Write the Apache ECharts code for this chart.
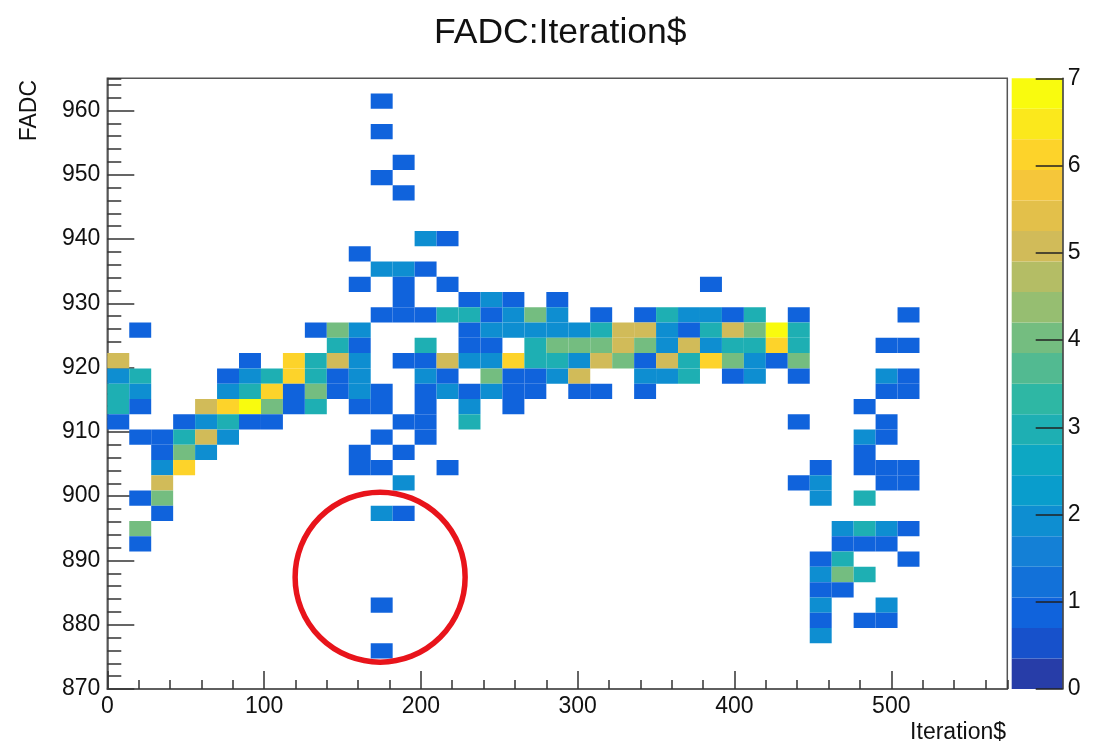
<!DOCTYPE html>
<html>
<head>
<meta charset="utf-8">
<script src="https://cdn.jsdelivr.net/npm/echarts@6/dist/echarts.min.js"></script>
<style>
  html, body { margin: 0; padding: 0; background: #fff; }
  #chart { width: 1106px; height: 746px; }
</style>
</head>
<body>
<div id="chart"></div>
<script>
// ---- histogram binning (TH2 of FADC vs Iteration$) ----
const xRange = [0, 574];       // Iteration$
const xBinWidth = 14;
const yRange = [870, 965];     // FADC
const yBinWidth = 2.375;
const zRange = [0, 7];         // bin content (colour axis)
const zContours = 20;

// ---- filled bins: [x bin index, y bin index, entries] ----
const cells = [
  // top outliers
  [12, 38, 1], [12, 36, 1], [13, 34, 1], [12, 33, 1], [13, 32, 1],
  [14, 29, 2], [15, 29, 1],
  [11, 28, 1],
  [12, 27, 2], [13, 27, 2], [14, 27, 1],
  [11, 26, 1], [13, 26, 1], [15, 26, 1], [27, 26, 1],
  [13, 25, 1], [16, 25, 1], [17, 25, 2], [18, 25, 1], [20, 25, 1],
  // main band
  [12, 24, 1], [13, 24, 1], [14, 24, 1], [15, 24, 3], [16, 24, 3], [17, 24, 1], [18, 24, 2],
  [19, 24, 4], [20, 24, 2], [22, 24, 1], [24, 24, 1], [25, 24, 3], [26, 24, 2], [27, 24, 2],
  [28, 24, 1], [29, 24, 3], [31, 24, 1], [36, 24, 1],
  [1, 23, 1], [9, 23, 1], [10, 23, 4], [11, 23, 2], [16, 23, 1], [17, 23, 2], [18, 23, 2],
  [19, 23, 2], [20, 23, 2], [21, 23, 2], [22, 23, 3], [23, 23, 5], [24, 23, 5], [25, 23, 2],
  [26, 23, 1], [27, 23, 3], [28, 23, 5], [29, 23, 4], [30, 23, 7], [31, 23, 3],
  [10, 22, 3], [11, 22, 1], [14, 22, 3], [16, 22, 1], [17, 22, 1], [19, 22, 3], [20, 22, 4],
  [21, 22, 4], [22, 22, 4], [23, 22, 5], [24, 22, 4], [25, 22, 2], [26, 22, 5], [27, 22, 2],
  [28, 22, 3], [29, 22, 3], [30, 22, 6], [31, 22, 3], [35, 22, 1], [36, 22, 1],
  [0, 21, 5], [6, 21, 1], [8, 21, 6], [9, 21, 3], [10, 21, 5], [11, 21, 2], [13, 21, 1],
  [14, 21, 1], [15, 21, 5], [16, 21, 2], [17, 21, 2], [18, 21, 6], [19, 21, 3], [20, 21, 3],
  [21, 21, 2], [22, 21, 5], [23, 21, 4], [24, 21, 1], [25, 21, 5], [26, 21, 3], [27, 21, 6],
  [28, 21, 4], [29, 21, 2], [30, 21, 1], [31, 21, 4],
  [0, 20, 2], [1, 20, 3], [5, 20, 1], [6, 20, 2], [7, 20, 3], [8, 20, 6], [9, 20, 3],
  [10, 20, 1], [11, 20, 2], [14, 20, 2], [15, 20, 1], [17, 20, 4], [18, 20, 1], [19, 20, 1],
  [20, 20, 2], [21, 20, 5], [24, 20, 2], [25, 20, 2], [26, 20, 3], [28, 20, 1], [29, 20, 2],
  [31, 20, 1], [35, 20, 2], [36, 20, 1],
  [0, 19, 3], [1, 19, 2], [5, 19, 2], [6, 19, 3], [7, 19, 6], [8, 19, 1], [9, 19, 4],
  [10, 19, 1], [11, 19, 2], [12, 19, 1], [14, 19, 1], [15, 19, 2], [16, 19, 1], [17, 19, 2],
  [18, 19, 1], [19, 19, 1], [21, 19, 1], [22, 19, 1], [24, 19, 1], [35, 19, 1], [36, 19, 1],
  [0, 18, 3], [1, 18, 1], [4, 18, 5], [5, 18, 6], [6, 18, 7], [7, 18, 4], [8, 18, 1],
  [9, 18, 3], [11, 18, 1], [12, 18, 1], [14, 18, 1], [16, 18, 2], [18, 18, 1], [34, 18, 1],
  [0, 17, 1], [3, 17, 1], [4, 17, 2], [5, 17, 3], [6, 17, 1], [7, 17, 1], [13, 17, 1],
  [14, 17, 1], [16, 17, 3], [31, 17, 1], [35, 17, 1],
  [1, 16, 1], [2, 16, 1], [3, 16, 3], [4, 16, 5], [5, 16, 2], [12, 16, 1], [14, 16, 1],
  [34, 16, 2], [35, 16, 1],
  [2, 15, 1], [3, 15, 4], [4, 15, 2], [11, 15, 1], [13, 15, 1], [34, 15, 1],
  // lower tail
  [2, 14, 2], [3, 14, 6], [11, 14, 1], [12, 14, 1], [15, 14, 1], [32, 14, 1], [34, 14, 1],
  [35, 14, 1], [36, 14, 1],
  [2, 13, 5], [13, 13, 2], [31, 13, 1], [32, 13, 2], [35, 13, 1], [36, 13, 1],
  [1, 12, 1], [2, 12, 4], [32, 12, 2], [34, 12, 3],
  [2, 11, 1], [12, 11, 2], [13, 11, 1],
  [1, 10, 4], [33, 10, 2], [34, 10, 3], [35, 10, 2], [36, 10, 1],
  [1, 9, 1], [33, 9, 1], [34, 9, 1], [35, 9, 1],
  [32, 8, 1], [33, 8, 3], [36, 8, 1],
  [32, 7, 2], [33, 7, 4], [34, 7, 3],
  [32, 6, 1], [33, 6, 1],
  [12, 5, 1], [32, 5, 2], [35, 5, 2],
  [32, 4, 1], [34, 4, 1], [35, 4, 1],
  [32, 3, 2],
  [12, 2, 1]
];

// ---- marker ring around the low-FADC outliers: centre [Iteration$, FADC], radius in px ----
const ringCenter = [174, 887.4];
const ringRadius = 85;

// ---- kBird palette, sampled into the contour levels ----
const birdStops = [0.0000, 0.1250, 0.2500, 0.3750, 0.5000, 0.6250, 0.7500, 0.8750, 1.0000];
const birdR = [0.2082, 0.0592, 0.0780, 0.0232, 0.1802, 0.5301, 0.8186, 0.9956, 0.9764];
const birdG = [0.1664, 0.3599, 0.5041, 0.6419, 0.7178, 0.7492, 0.7328, 0.7862, 0.9832];
const birdB = [0.5293, 0.8684, 0.8385, 0.7914, 0.6425, 0.4662, 0.3499, 0.1968, 0.0539];

function birdColor(t) {
  let k = 0;
  while (k < birdStops.length - 2 && t > birdStops[k + 1]) k++;
  const f = (t - birdStops[k]) / (birdStops[k + 1] - birdStops[k]);
  const ch = arr => Math.round(255 * (arr[k] + f * (arr[k + 1] - arr[k])));
  return 'rgb(' + ch(birdR) + ',' + ch(birdG) + ',' + ch(birdB) + ')';
}

const levelStep = (zRange[1] - zRange[0]) / zContours;
const pieces = [];
const colorBands = [];
for (let k = 0; k < zContours; k++) {
  const idx = Math.floor((k + 0.99) * 255 / zContours);
  const color = birdColor(Math.min(idx / 254, 1));
  const lo = zRange[0] + k * levelStep;
  const hi = zRange[0] + (k + 1) * levelStep;
  pieces.push(k === zContours - 1 ? { gte: lo - 1e-9, lte: hi + 0.01, color } : { gte: lo - 1e-9, lt: hi - 1e-9, color });
  colorBands.push([lo, hi, (lo + hi) / 2]);
}

const binData = cells.map(([i, j, n]) => [xRange[0] + i * xBinWidth, yRange[0] + j * yBinWidth, n]);

const FONT = '"Liberation Sans", Arial, Helvetica, sans-serif';
const TXT = '#111';
const FRAME = '#555';

const chart = echarts.init(document.getElementById('chart'), null, { renderer: 'canvas' });

chart.setOption({
  backgroundColor: '#fff',
  animation: false,
  textStyle: { fontFamily: FONT },
  title: {
    text: 'FADC:Iteration$',
    left: 429, top: 10,
    textStyle: { fontFamily: FONT, fontSize: 35.5, fontWeight: 'normal', color: TXT }
  },
  grid: [
    { left: 107.3, top: 78.3, width: 900, height: 610.7, show: true, borderColor: FRAME, borderWidth: 1.5, backgroundColor: 'transparent' },
    { left: 1011.7, top: 78.3, width: 51, height: 610.7, show: false }
  ],
  visualMap: {
    type: 'piecewise',
    show: false,
    dimension: 2,
    seriesIndex: [0, 1],
    pieces: pieces
  },
  xAxis: [
    {
      gridIndex: 0, type: 'value', min: xRange[0], max: xRange[1], interval: 100,
      axisLine: { show: true, onZero: false, lineStyle: { color: FRAME, width: 1.5 } },
      axisTick: { show: true, inside: true, length: 18, lineStyle: { color: '#333', width: 1.5 } },
      axisLabel: { show: true, margin: 6, fontSize: 23, color: TXT, fontFamily: FONT, showMaxLabel: false },
      splitLine: { show: false }
    },
    {
      gridIndex: 0, type: 'value', position: 'bottom', min: xRange[0], max: xRange[1], interval: 20,
      axisLine: { show: false, onZero: false },
      axisTick: { show: true, inside: true, length: 9, lineStyle: { color: '#333', width: 1.5 } },
      axisLabel: { show: false },
      splitLine: { show: false }
    },
    {
      gridIndex: 1, type: 'value', min: 0, max: 1, show: false,
      axisLine: { onZero: false }
    }
  ],
  yAxis: [
    {
      gridIndex: 0, type: 'value', min: yRange[0], max: yRange[1], interval: 10,
      axisLine: { show: true, onZero: false, lineStyle: { color: FRAME, width: 1.5 } },
      axisTick: { show: true, inside: true, length: 27, lineStyle: { color: '#333', width: 1.5 } },
      axisLabel: { show: true, margin: 7, fontSize: 23, color: TXT, fontFamily: FONT, showMaxLabel: false },
      splitLine: { show: false }
    },
    {
      gridIndex: 0, type: 'value', position: 'left', min: yRange[0], max: yRange[1], interval: 2,
      axisLine: { show: false, onZero: false },
      axisTick: { show: true, inside: true, length: 14, lineStyle: { color: '#333', width: 1.5 } },
      axisLabel: { show: false },
      splitLine: { show: false }
    },
    {
      gridIndex: 1, type: 'value', position: 'right', min: zRange[0], max: zRange[1], interval: 1,
      z: 5,
      axisLine: { show: true, onZero: false, lineStyle: { color: '#333', width: 1.5 } },
      axisTick: { show: true, inside: true, length: 27, lineStyle: { color: '#222', width: 1.5 } },
      axisLabel: { show: true, margin: 5, fontSize: 23, color: TXT, fontFamily: FONT },
      splitLine: { show: false }
    }
  ],
  series: [
    {
      type: 'custom',
      xAxisIndex: 0, yAxisIndex: 0,
      data: binData,
      clip: true,
      z: 1,
      renderItem: function (params, api) {
        const x0 = api.value(0), y0 = api.value(1);
        const p0 = api.coord([x0, y0]);
        const p1 = api.coord([x0 + xBinWidth, y0 + yBinWidth]);
        return {
          type: 'rect',
          shape: { x: p0[0], y: p1[1], width: p1[0] - p0[0], height: p0[1] - p1[1] },
          style: { fill: api.visual('color') }
        };
      }
    },
    {
      type: 'custom',
      xAxisIndex: 2, yAxisIndex: 2,
      data: colorBands,
      z: 1,
      renderItem: function (params, api) {
        const lo = api.value(0), hi = api.value(1);
        const p0 = api.coord([0, lo]);
        const p1 = api.coord([1, hi]);
        return {
          type: 'rect',
          shape: { x: p0[0], y: p1[1], width: p1[0] - p0[0], height: p0[1] - p1[1] },
          style: { fill: api.visual('color') }
        };
      },
      encode: { x: -1, y: [0, 1] }
    },
    {
      // red ring drawn around the isolated low-FADC entries
      type: 'custom',
      xAxisIndex: 0, yAxisIndex: 0,
      data: [ringCenter],
      clip: false,
      z: 10,
      silent: true,
      renderItem: function (params, api) {
        const c = api.coord([api.value(0), api.value(1)]);
        return {
          type: 'circle',
          shape: { cx: c[0], cy: c[1], r: ringRadius },
          style: { fill: 'none', stroke: '#e8141b', lineWidth: 5.5 }
        };
      }
    }
  ],
  graphic: [
    {
      type: 'text', right: 100, top: 721,
      style: { text: 'Iteration$', fontSize: 23, fontFamily: FONT, fill: TXT }
    },
    {
      type: 'text', x: 30, y: 80, rotation: Math.PI / 2,
      style: { text: 'FADC', fontSize: 23, fontFamily: FONT, fill: TXT, align: 'right', verticalAlign: 'middle' }
    }
  ]
});
</script>
</body>
</html>
